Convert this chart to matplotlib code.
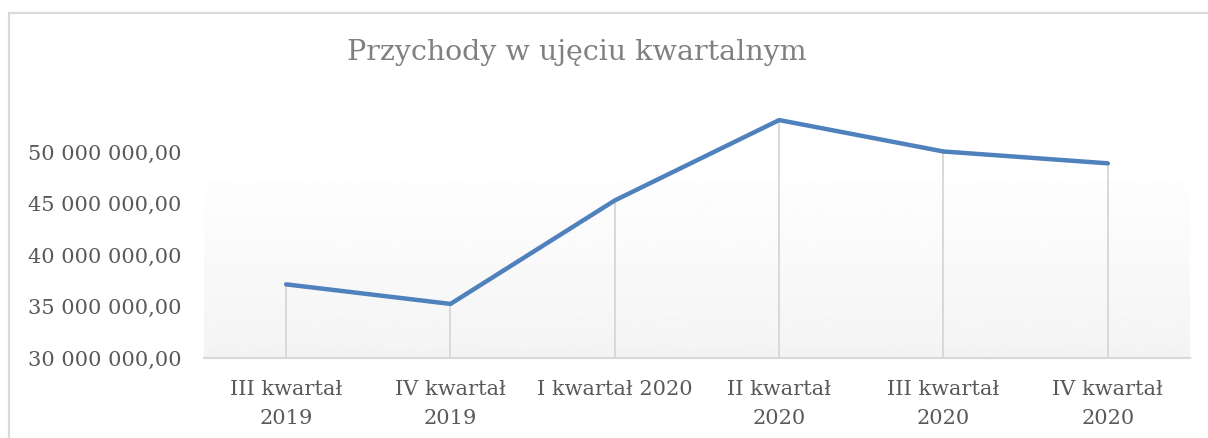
import matplotlib
matplotlib.use("Agg")
import matplotlib.pyplot as plt
import numpy as np
from matplotlib.ticker import FuncFormatter
from matplotlib.patches import Rectangle

categories = ["III kwartał\n2019", "IV kwartał\n2019", "I kwartał 2020",
              "II kwartał\n2020", "III kwartał\n2020", "IV kwartał\n2020"]
values = [37_150_000, 35_250_000, 45_300_000, 53_100_000, 50_050_000, 48_900_000]
yticks = [30_000_000, 35_000_000, 40_000_000, 45_000_000, 50_000_000]
title = "Przychody w ujęciu kwartalnym"

plt.rcParams['font.family'] = ['DejaVu Serif']

W, H = 1208, 438
fig = plt.figure(figsize=(W / 100, H / 100), dpi=100)
fig.patch.set_facecolor("white")

# outer chart border
fig.add_artist(Rectangle((9 / W, -0.2), 1.2, 1.2 - 13 / H,
                         transform=fig.transFigure, fill=False,
                         edgecolor="#d9d9d9", linewidth=1.6))

left, right, bottom, top = 204, 1190, 358, 100
ax = fig.add_axes([left / W, (H - bottom) / H, (right - left) / W, (bottom - top) / H])
ax.set_facecolor("none")

px_per_unit = 51.5 / 5_000_000
ymin = 30_000_000
ymax = ymin + (bottom - top) / px_per_unit
grad_top = ymin + (bottom - 163) / px_per_unit

x = np.arange(len(values))
ax.set_xlim(-0.5, len(values) - 0.5)
ax.set_ylim(ymin, ymax)

# gradient plot-area fill
grad = np.linspace(0.955, 1.0, 256).reshape(-1, 1)
ax.imshow(grad, cmap="gray", vmin=0, vmax=1, origin="lower", aspect="auto",
          extent=[-0.5, len(values) - 0.5, ymin, grad_top], zorder=0)

ax.vlines(x, ymin, values, colors="#d9d9d9", linewidth=1.4, zorder=1)
ax.plot(x, values, color="#4f81bd", linewidth=3.2, solid_capstyle="round",
        solid_joinstyle="round", zorder=3, clip_on=False)

for s in ["top", "right", "left"]:
    ax.spines[s].set_visible(False)
ax.spines["bottom"].set_color("#d9d9d9")
ax.spines["bottom"].set_linewidth(1.6)
ax.spines["bottom"].set_zorder(2)

ax.set_yticks(yticks)
ax.yaxis.set_major_formatter(FuncFormatter(
    lambda v, p: f"{v:,.2f}".replace(",", " ").replace(".", ",")))
ax.set_xticks(x)
ax.set_xticklabels(categories)
ax.tick_params(axis="both", length=0, labelsize=15, labelcolor="#595959")
ax.tick_params(axis="y", pad=16)
ax.tick_params(axis="x", pad=15.5)
for lbl in ax.get_xticklabels():
    lbl.set_linespacing(1.7)

fig.text(577 / W, 1 - 52 / H, title, ha="center", va="center",
         fontsize=20.5, color="#808080")

fig.savefig("out.png", dpi=100)
